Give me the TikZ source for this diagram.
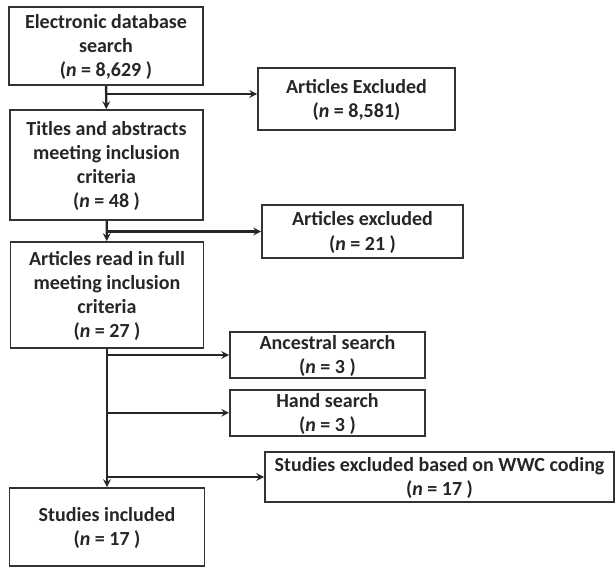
\documentclass[tikz,border=0pt]{standalone}
\usepackage{fontspec}
\setmainfont{Carlito}
\usetikzlibrary{arrows}
\usetikzlibrary{positioning}

\begin{document}
\begin{tikzpicture}[x=1pt,y=-1pt,>=stealth,
	every node/.style={draw=black!80,line width=1.8pt,align=center,inner sep=0pt,text depth=1pt,
		font=\bfseries\fontsize{20}{24.2}\selectfont,text=black!85},
	flow/.style={->,line width=2.4pt,draw=black!85}]

	\useasboundingbox (0,0) rectangle (615,568);

	\node[minimum width=194pt,minimum height=78pt] (S0) at (106,46) {
		Electronic database\\
		search\\
		(\textit{n} = 8,629 )
	};
	\node[minimum width=197pt,minimum height=62pt] (E0) at (356.5,99) {
		Articles Excluded\\
		(\textit{n} = 8,581)
	};
	\node[minimum width=193pt,minimum height=110pt] (S1) at (106.5,165) {
		Titles and abstracts\\
		meeting inclusion\\
		criteria\\
		(\textit{n} = 48 )
	};
	\node[minimum width=201pt,minimum height=53pt] (E1) at (362.5,231.5) {
		Articles excluded\\
		(\textit{n} = 21 )
	};
	\node[minimum width=193pt,minimum height=106pt] (S2) at (107,295) {
		Articles read in full\\
		meeting inclusion\\
		criteria\\
		(\textit{n} = 27 )
	};
	\node[minimum width=195pt,minimum height=46pt] (A0) at (327.5,355) {
		Ancestral search\\
		(\textit{n} = 3 )
	};
	\node[minimum width=195pt,minimum height=46pt, below=10pt of A0] (A1) {
		Hand search\\
		(\textit{n} = 3 )
	};
	\node[minimum width=349pt,minimum height=50pt] (E2) at (439.5,477) {
		Studies excluded based on WWC coding\\
		(\textit{n} = 17 )
	};
	\node[minimum width=195pt,minimum height=78pt] (S3) at (107,527) {
		Studies included\\
		(\textit{n} = 17 )
	};

	\draw[flow] (S0) -- (S1);
	\draw[flow] ([yshift=5pt]S0.south |- E0.west) -- ([yshift=5pt]E0.west);
	\draw[flow] (S1) -- (S2);
	\draw[flow] (S1.south |- E1.west) -- (E1.west);
	\draw[flow] (S2) -- (S3);
	\draw[flow] (S2.south |- A0.west) -- (A0.west);
	\draw[flow] (S2.south |- A1.west) -- (A1.west);
	\draw[flow] (S2.south |- E2.west) -- (E2.west);
\end{tikzpicture}
\end{document}
